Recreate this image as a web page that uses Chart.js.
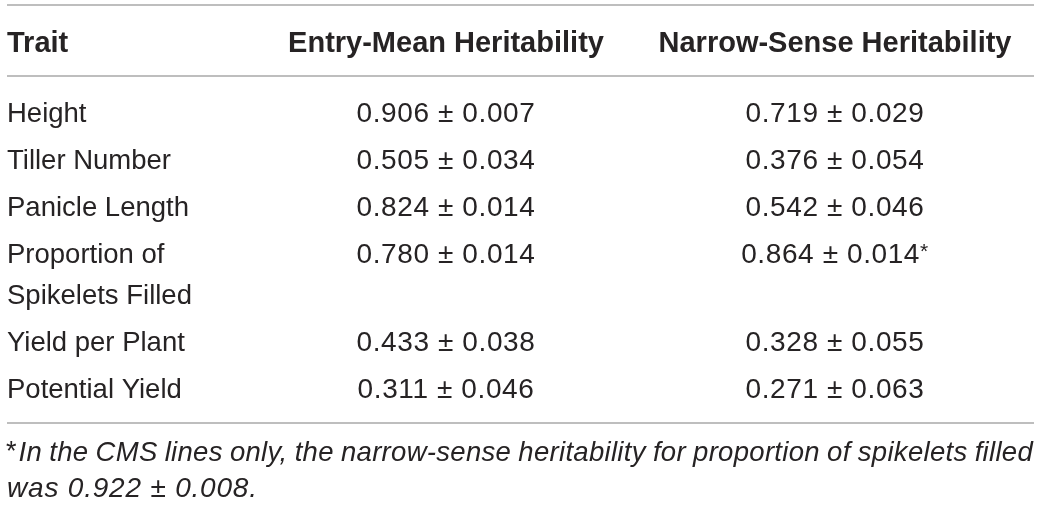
<!DOCTYPE html>
<html>
<head>
<meta charset="utf-8">
<script src="https://cdn.jsdelivr.net/npm/chart.js@4.4.1/dist/chart.umd.min.js"></script>
<style>
html,body{margin:0;padding:0;background:#fff;}
#wrap{width:1041px;height:505px;}
</style>
</head>
<body>
<div id="wrap"><canvas id="c" width="1041" height="505"></canvas></div>
<script>
// ---- data ----
const headers = ["Trait", "Entry-Mean Heritability", "Narrow-Sense Heritability"];
const traits = [["Height"], ["Tiller Number"], ["Panicle Length"], ["Proportion of", "Spikelets Filled"], ["Yield per Plant"], ["Potential Yield"]];
const entryMean = [0.906, 0.505, 0.824, 0.780, 0.433, 0.311];
const entryMeanSE = [0.007, 0.034, 0.014, 0.014, 0.038, 0.046];
const narrowSense = [0.719, 0.376, 0.542, 0.864, 0.328, 0.271];
const narrowSenseSE = [0.029, 0.054, 0.046, 0.014, 0.055, 0.063];
const narrowNote = ["", "", "", "*", "", ""];
const footnoteMark = "*";
const footnoteLines = ["In the CMS lines only, the narrow-sense heritability for proportion of spikelets filled", "was 0.922 \u00b1 0.008."];

// ---- layout ----
const colX = [7, 446, 835];
const colAlign = ["left", "center", "center"];
const headerBase = 51.5;
const firstBase = 121.5, lineStep = 41, rowGap = 6;
const rules = [5, 76, 423];
const ruleLeft = 7, ruleRight = 1034;
const footBase = [461, 497];
const FONT = '"Liberation Sans", Arial, Helvetica, sans-serif';
const textColor = "#262324";
const colFont = ["27.5px " + FONT, "28px " + FONT, "28px " + FONT];
const colSpacing = ["0px", "0.6px", "0.6px"];

const rowBase = [];
let yy = firstBase;
traits.forEach(t => { rowBase.push(yy); yy += t.length * lineStep + rowGap; });

const fmt = (v, s) => v.toFixed(3) + " \u00b1 " + s.toFixed(3);
const cellText = [
  traits,
  entryMean.map((v, i) => [fmt(v, entryMeanSE[i])]),
  narrowSense.map((v, i) => [fmt(v, narrowSenseSE[i])])
];

const datasets = cellText.map((col, ci) => ({
  label: headers[ci],
  data: col.map((_, ri) => ({ x: colX[ci], y: rowBase[ri] })),
  pointRadius: 0,
  cells: col,
  align: colAlign[ci],
  font: colFont[ci],
  spacing: colSpacing[ci],
  notes: ci === 2 ? narrowNote : null
}));

const tablePlugin = {
  id: 'tablePlugin',
  afterDraw(chart) {
    const ctx = chart.ctx;
    const xs = chart.scales.x, ys = chart.scales.y;
    ctx.save();
    // rules
    ctx.strokeStyle = "#a8a8a8";
    ctx.lineWidth = 1.6;
    rules.forEach(r => {
      const py = ys.getPixelForValue(r);
      ctx.beginPath();
      ctx.moveTo(xs.getPixelForValue(ruleLeft), py);
      ctx.lineTo(xs.getPixelForValue(ruleRight), py);
      ctx.stroke();
    });
    ctx.fillStyle = textColor;
    ctx.textBaseline = "alphabetic";
    // headers
    ctx.font = "bold 29px " + FONT;
    ctx.letterSpacing = "0px";
    headers.forEach((h, ci) => {
      ctx.textAlign = colAlign[ci];
      ctx.fillText(h, xs.getPixelForValue(colX[ci]), ys.getPixelForValue(headerBase));
    });
    // cells
    chart.data.datasets.forEach((ds, di) => {
      const meta = chart.getDatasetMeta(di);
      meta.data.forEach((el, ri) => {
        const lines = ds.cells[ri];
        const note = ds.notes ? ds.notes[ri] : "";
        ctx.font = ds.font;
        ctx.letterSpacing = ds.spacing;
        lines.forEach((ln, li) => {
          const y = el.y + li * lineStep;
          if (note) {
            const w = ctx.measureText(ln).width;
            ctx.font = "21px " + FONT;
            const nw = ctx.measureText(note).width;
            ctx.font = ds.font;
            const total = w + nw;
            const start = ds.align === "center" ? el.x - total / 2 : el.x;
            ctx.textAlign = "left";
            ctx.fillText(ln, start, y);
            ctx.font = "21px " + FONT;
            ctx.fillText(note, start + w, y - 5);
            ctx.font = ds.font;
          } else {
            ctx.textAlign = ds.align;
            ctx.fillText(ln, el.x, y);
          }
        });
      });
    });
    // footnote
    ctx.textAlign = "left";
    ctx.letterSpacing = "0px";
    ctx.font = "27px " + FONT;
    const ax = xs.getPixelForValue(ruleLeft) - 1;
    const y1 = ys.getPixelForValue(footBase[0]);
    ctx.fillText(footnoteMark, ax, y1 - 1);
    const astW = ctx.measureText(footnoteMark).width;
    ctx.font = "italic 27.5px " + FONT;
    ctx.letterSpacing = "0.3px";
    const words = footnoteLines[0].split(" ");
    const startX = ax + astW + 2;
    const endX = xs.getPixelForValue(ruleRight) - 1;
    const wordsW = words.reduce((s, w) => s + ctx.measureText(w).width, 0);
    const gap = Math.max(4, (endX - startX - wordsW) / (words.length - 1));
    let cx = startX;
    words.forEach(w => { ctx.fillText(w, cx, y1); cx += ctx.measureText(w).width + gap; });
    ctx.letterSpacing = "0.8px";
    ctx.font = "italic 28px " + FONT;
    ctx.fillText(footnoteLines[1], xs.getPixelForValue(ruleLeft), ys.getPixelForValue(footBase[1]));
    ctx.restore();
  }
};

new Chart(document.getElementById('c'), {
  type: 'scatter',
  data: { datasets },
  options: {
    responsive: false,
    animation: false,
    devicePixelRatio: 1,
    layout: { padding: 0 },
    plugins: { legend: { display: false }, tooltip: { enabled: false } },
    scales: {
      x: { type: 'linear', min: 0, max: 1041, display: false },
      y: { type: 'linear', min: 0, max: 505, reverse: true, display: false }
    }
  },
  plugins: [tablePlugin]
});
</script>
</body>
</html>
